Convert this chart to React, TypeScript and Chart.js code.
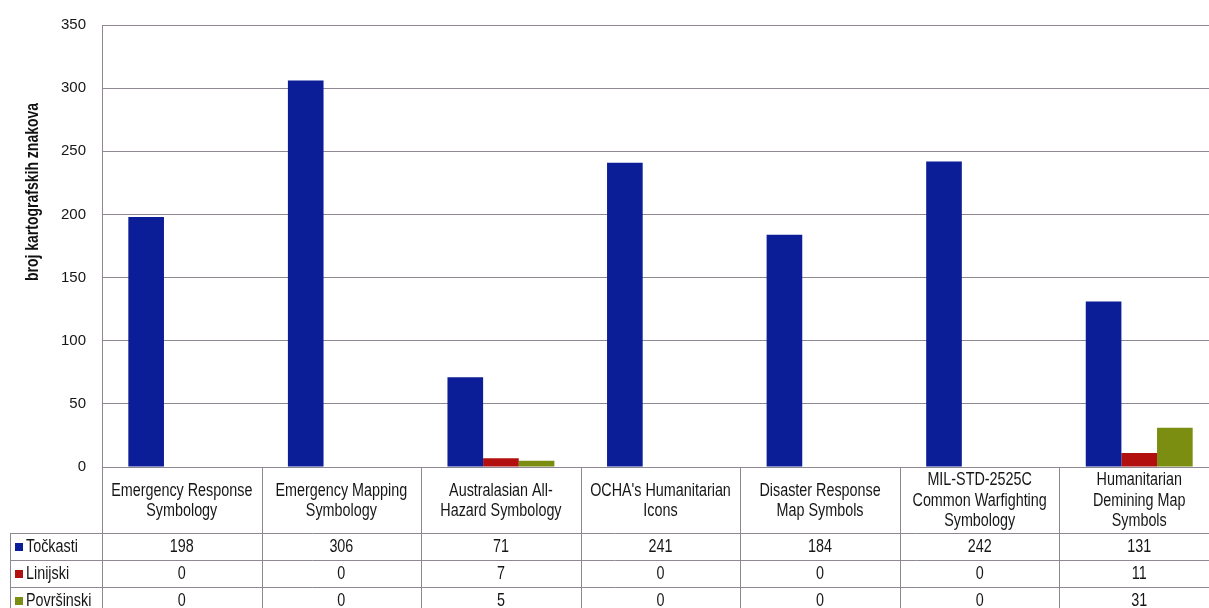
import React, { useEffect, useRef } from "react";
import { Chart, registerables } from "chart.js";

Chart.register(...registerables);

// Symbol sets compared (column headers of the data table, one entry per line)
const categories: string[][] = [
  ["Emergency Response", "Symbology"],
  ["Emergency Mapping", "Symbology"],
  ["Australasian All-", "Hazard Symbology"],
  ["OCHA's Humanitarian", "Icons"],
  ["Disaster Response", "Map Symbols"],
  ["MIL-STD-2525C", "Common Warfighting", "Symbology"],
  ["Humanitarian", "Demining Map", "Symbols"],
];

// Number of cartographic symbols per geometry type
const tockasti = [198, 306, 71, 241, 184, 242, 131];
const linijski = [0, 0, 7, 0, 0, 0, 11];
const povrsinski = [0, 0, 5, 0, 0, 0, 31];

const seriesNames = ["Točkasti", "Linijski", "Površinski"];
const seriesColors = ["#0b1d97", "#b1100f", "#7b8e12"];

const yMin = 0;
const yMax = 350;
const yStep = 50;
const yAxisTitle = "broj kartografskih znakova";

const LINE = "#8f8791";
const TEXT = "#161616";
const REGULAR = '"Liberation Sans", Arial, sans-serif';
const CONDENSE = 0.82; // horizontal squeeze giving a narrow face

const HEADER_H = 66;
const ROW_H = 27;
const TABLE_LEFT = 10;

const crisp = (v: number) => Math.round(v) + 0.5;

// fillText with the glyphs squeezed horizontally around the anchor
function narrowText(ctx: CanvasRenderingContext2D, text: string, x: number, y: number) {
  ctx.save();
  ctx.translate(x, y);
  ctx.scale(CONDENSE, 1);
  ctx.fillText(text, 0, 0);
  ctx.restore();
}

// Draws the data table under the plot plus the rotated y-axis caption
const dataTablePlugin = {
  id: "dataTable",
  afterDraw(chart: any) {
    const ctx: CanvasRenderingContext2D = chart.ctx;
    const area = chart.chartArea;
    const xs = chart.scales.x;
    const n = categories.length;
    const colW = (area.right - area.left) / n;
    const rows = [tockasti, linijski, povrsinski];
    const headerTop = area.bottom;
    const headerBottom = headerTop + HEADER_H;
    const tableBottom = headerBottom + ROW_H * rows.length;
    const tableRight = area.right;

    ctx.save();
    ctx.strokeStyle = LINE;
    ctx.lineWidth = 1;
    ctx.beginPath();
    // horizontal row separators
    for (let r = 0; r <= rows.length; r++) {
      const y = crisp(headerBottom + r * ROW_H);
      ctx.moveTo(TABLE_LEFT, y);
      ctx.lineTo(tableRight, y);
    }
    // legend column left border
    ctx.moveTo(crisp(TABLE_LEFT), headerBottom);
    ctx.lineTo(crisp(TABLE_LEFT), tableBottom);
    // category column borders
    for (let i = 0; i <= n; i++) {
      const cx = i < n ? xs.getPixelForValue(i) - colW / 2 : area.right;
      ctx.moveTo(crisp(cx), headerTop);
      ctx.lineTo(crisp(cx), tableBottom);
    }
    ctx.stroke();

    ctx.fillStyle = TEXT;
    ctx.textAlign = "center";
    ctx.textBaseline = "middle";
    ctx.font = `17.5px ${REGULAR}`;
    const lineH = 20.5;
    categories.forEach((lines, i) => {
      const cx = xs.getPixelForValue(i);
      const midY = (headerTop + headerBottom) / 2;
      const startY = midY - ((lines.length - 1) * lineH) / 2;
      lines.forEach((t, k) => narrowText(ctx, t, cx, startY + k * lineH + 1));
      rows.forEach((vals, r) => {
        narrowText(ctx, String(vals[i]), cx, headerBottom + r * ROW_H + ROW_H / 2 + 1);
      });
    });

    // legend keys
    ctx.textAlign = "left";
    rows.forEach((_, r) => {
      const cy = headerBottom + r * ROW_H + ROW_H / 2;
      ctx.fillStyle = seriesColors[r];
      ctx.fillRect(15, Math.round(cy - 4), 8, 8);
      ctx.fillStyle = TEXT;
      narrowText(ctx, seriesNames[r], 26, cy + 1);
    });

    // y-axis caption
    ctx.save();
    ctx.translate(33, 192);
    ctx.rotate(-Math.PI / 2);
    ctx.textAlign = "center";
    ctx.font = `bold 17.5px ${REGULAR}`;
    ctx.fillStyle = "#111111";
    ctx.scale(0.8, 1);
    ctx.fillText(yAxisTitle, 0, 0);
    ctx.restore();

    ctx.restore();
  },
};

export default function App() {
  const canvasRef = useRef<HTMLCanvasElement | null>(null);

  useEffect(() => {
    if (!canvasRef.current) return;
    const series = [tockasti, linijski, povrsinski];
    const chart = new Chart(canvasRef.current, {
      type: "bar",
      data: {
        labels: categories.map((c) => c.join(" ")),
        datasets: series.map((vals, i) => ({
          label: seriesNames[i],
          data: vals,
          backgroundColor: seriesColors[i],
          borderWidth: 0,
          barPercentage: 1,
          categoryPercentage: 0.67,
        })),
      },
      options: {
        responsive: false,
        animation: false,
        devicePixelRatio: 1,
        layout: { padding: { left: 0, top: 22.5, right: 1, bottom: 149 } },
        plugins: {
          legend: { display: false },
          tooltip: { enabled: false },
          title: { display: false },
        },
        scales: {
          x: {
            display: false,
            offset: true,
            grid: { display: false },
          },
          y: {
            min: yMin,
            max: yMax,
            afterFit: (scale: any) => {
              scale.width = 102;
            },
            ticks: {
              stepSize: yStep,
              padding: 16,
              color: TEXT,
              font: { family: REGULAR, size: 15 },
            },
            grid: { color: LINE, lineWidth: 1, drawTicks: false },
            border: { color: LINE, width: 1 },
          },
        },
      },
      plugins: [dataTablePlugin],
    });
    return () => chart.destroy();
  }, []);

  return (
    <div
      style={{
        position: "fixed",
        left: 0,
        top: 0,
        width: 1220,
        height: 616,
        overflow: "hidden",
        background: "#ffffff",
      }}
    >
      <canvas ref={canvasRef} width={1220} height={616} style={{ width: 1220, height: 616 }} />
    </div>
  );
}
